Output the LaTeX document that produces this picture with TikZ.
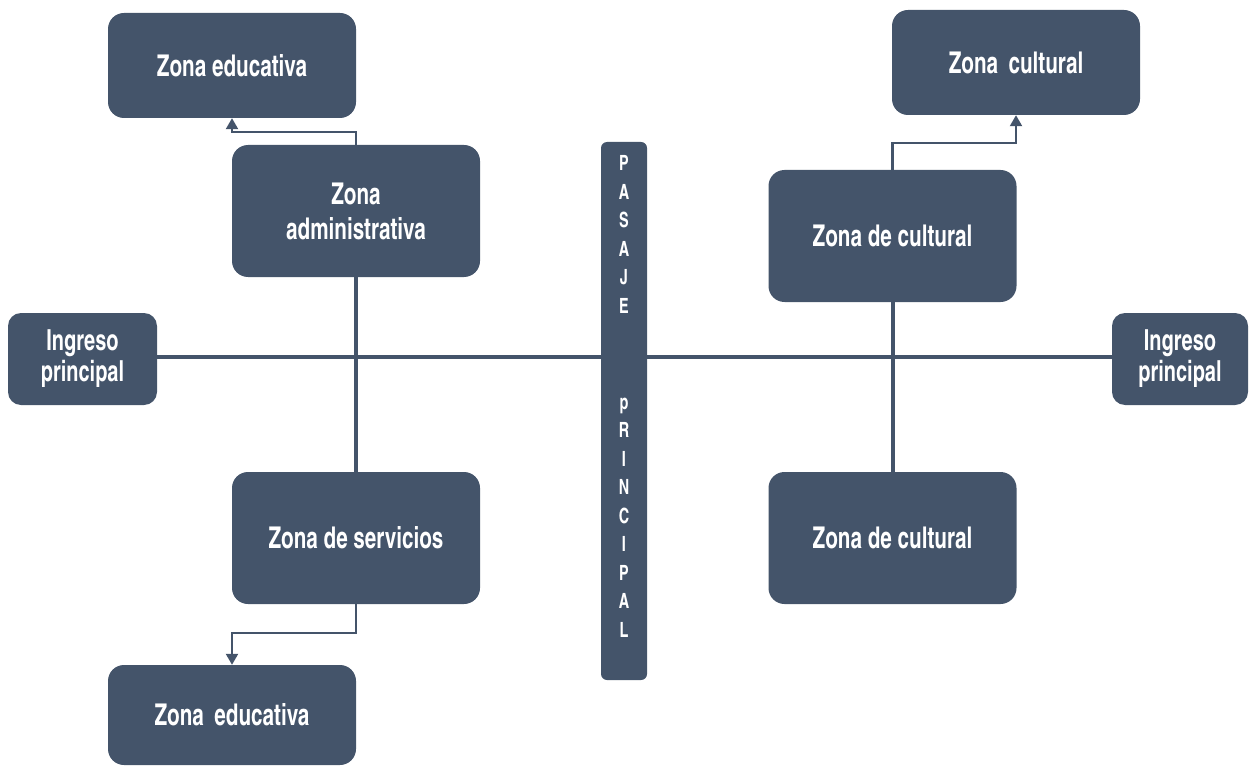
\documentclass[tikz,border=0pt]{standalone}
\usepackage{fontspec}
\usetikzlibrary{arrows.meta}
\IfFontExistsTF{texgyreheroscn-bold.otf}
  {\newfontfamily\lblA{texgyreheroscn-bold.otf}[FakeStretch=0.84]\newcommand\lbl{\lblA}}
  {\newfontfamily\lblA{Fira Sans}[FakeStretch=0.66]\newcommand\lbl{\lblA\bfseries}}
\definecolor{slate}{RGB}{68,84,106}
\begin{document}
\begin{tikzpicture}[x=1pt,y=-1pt,
  box/.style={fill=slate, draw=none, rounded corners=16pt, minimum width=248pt,
    inner sep=0pt, text=white, align=center,
    font=\lbl\fontsize{30}{35}\selectfont},
  ingbox/.style={box, rounded corners=13pt, minimum height=92pt,
    font=\lbl\fontsize{29}{31}\selectfont},
  barbox/.style={fill=slate, draw=none, rounded corners=6pt, minimum width=46pt,
    minimum height=538pt, inner sep=0pt},
  barletter/.style={text=white, inner sep=0pt, anchor=base,
    font=\lbl\fontsize{21}{21}\selectfont},
  mainline/.style={draw=slate, line width=4pt},
  conn/.style={draw=slate, line width=2.2pt, -{Triangle[width=12pt,length=11pt]}}]
\useasboundingbox (0,0) rectangle (1249,767);
% boxes
\node[box, minimum height=105pt] (edu1) at (232,65.5) {Zona educativa};
\node[box, minimum height=132pt] (admin) at (356,211) {Zona\\administrativa};
\node[box, minimum height=132pt] (serv) at (356,538) {Zona de servicios};
\node[box, minimum height=100pt] (edu2) at (232,715) {Zona\hspace{0.35em}educativa};
\node[box, minimum height=105pt] (cult1) at (1016,62.5) {Zona\hspace{0.35em}cultural};
\node[box, minimum height=132pt] (cult2) at (892.5,236) {Zona de cultural};
\node[box, minimum height=132pt] (cult3) at (892.5,538) {Zona de cultural};
\node[ingbox, minimum width=149pt] (ing1) at (82.5,359) {Ingreso\\principal};
\node[ingbox, minimum width=136pt] (ing2) at (1180,359) {Ingreso\\principal};
\node[barbox] (bar) at (624,411) {};
% bar letters
\foreach \ch/\yy [count=\i] in {P/163,A/192,S/220,A/249,J/277,E/306,
    p/402,R/430,I/459,N/487,C/516,I/544,P/573,A/601,L/630}
  \node[barletter] (bl\i) at (624,\yy+7.5) {\ch};
% main lines
\draw[mainline] (ing1.east |- 0,357) -- (bar.west |- 0,357);
\draw[mainline] (bar.east |- 0,357) -- (ing2.west |- 0,357);
\draw[mainline] (admin.south) -- (serv.north);
\draw[mainline] (cult2.south) -- (cult3.north);
% arrows
\draw[conn] (admin.north) -- ++(0,-13) -| (edu1.south);
\draw[conn] (serv.south) -- ++(0,29) -| (edu2.north);
\draw[conn] (cult2.north) -- ++(0,-27) -| (cult1.south);
\end{tikzpicture}
\end{document}
